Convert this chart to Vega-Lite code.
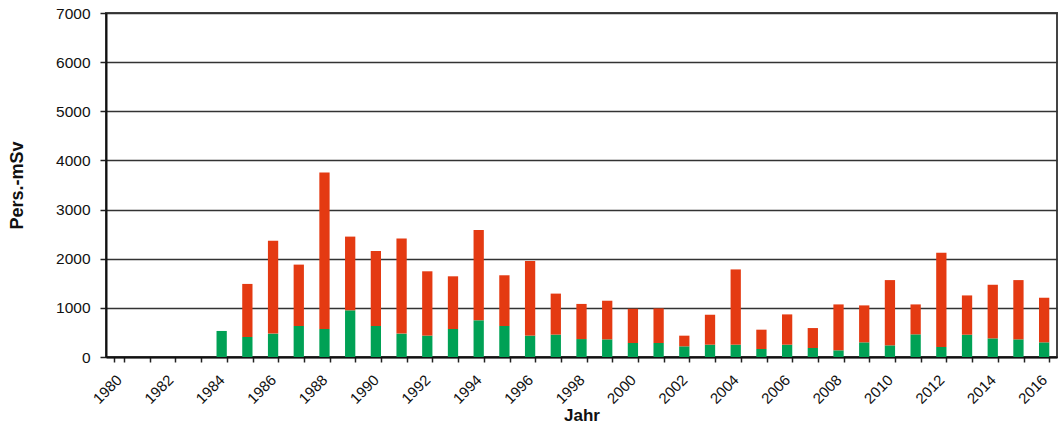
{
  "$schema": "https://vega.github.io/schema/vega-lite/v6.json",
  "autosize": "none",
  "width": 951,
  "height": 344,
  "padding": {"left": 106, "top": 13, "right": 2, "bottom": 73},
  "background": "white",
  "config": {
    "font": "Liberation Sans",
    "view": {"stroke": "#444", "strokeWidth": 2}
  },
  "data": {
    "values": [
      {"Jahr": "1984", "Gruppe": "A", "Wert": 530}, {"Jahr": "1984", "Gruppe": "B", "Wert": 0},
      {"Jahr": "1985", "Gruppe": "A", "Wert": 407}, {"Jahr": "1985", "Gruppe": "B", "Wert": 1080},
      {"Jahr": "1986", "Gruppe": "A", "Wert": 476}, {"Jahr": "1986", "Gruppe": "B", "Wert": 1890},
      {"Jahr": "1987", "Gruppe": "A", "Wert": 631}, {"Jahr": "1987", "Gruppe": "B", "Wert": 1249},
      {"Jahr": "1988", "Gruppe": "A", "Wert": 570}, {"Jahr": "1988", "Gruppe": "B", "Wert": 3183},
      {"Jahr": "1989", "Gruppe": "A", "Wert": 950}, {"Jahr": "1989", "Gruppe": "B", "Wert": 1500},
      {"Jahr": "1990", "Gruppe": "A", "Wert": 631}, {"Jahr": "1990", "Gruppe": "B", "Wert": 1526},
      {"Jahr": "1991", "Gruppe": "A", "Wert": 476}, {"Jahr": "1991", "Gruppe": "B", "Wert": 1933},
      {"Jahr": "1992", "Gruppe": "A", "Wert": 435}, {"Jahr": "1992", "Gruppe": "B", "Wert": 1309},
      {"Jahr": "1993", "Gruppe": "A", "Wert": 570}, {"Jahr": "1993", "Gruppe": "B", "Wert": 1072},
      {"Jahr": "1994", "Gruppe": "A", "Wert": 747}, {"Jahr": "1994", "Gruppe": "B", "Wert": 1837},
      {"Jahr": "1995", "Gruppe": "A", "Wert": 631}, {"Jahr": "1995", "Gruppe": "B", "Wert": 1032},
      {"Jahr": "1996", "Gruppe": "A", "Wert": 435}, {"Jahr": "1996", "Gruppe": "B", "Wert": 1519},
      {"Jahr": "1997", "Gruppe": "A", "Wert": 456}, {"Jahr": "1997", "Gruppe": "B", "Wert": 834},
      {"Jahr": "1998", "Gruppe": "A", "Wert": 365}, {"Jahr": "1998", "Gruppe": "B", "Wert": 715},
      {"Jahr": "1999", "Gruppe": "A", "Wert": 359}, {"Jahr": "1999", "Gruppe": "B", "Wert": 786},
      {"Jahr": "2000", "Gruppe": "A", "Wert": 285}, {"Jahr": "2000", "Gruppe": "B", "Wert": 697},
      {"Jahr": "2001", "Gruppe": "A", "Wert": 285}, {"Jahr": "2001", "Gruppe": "B", "Wert": 704},
      {"Jahr": "2002", "Gruppe": "A", "Wert": 217}, {"Jahr": "2002", "Gruppe": "B", "Wert": 217},
      {"Jahr": "2003", "Gruppe": "A", "Wert": 251}, {"Jahr": "2003", "Gruppe": "B", "Wert": 609},
      {"Jahr": "2004", "Gruppe": "A", "Wert": 251}, {"Jahr": "2004", "Gruppe": "B", "Wert": 1531},
      {"Jahr": "2005", "Gruppe": "A", "Wert": 163}, {"Jahr": "2005", "Gruppe": "B", "Wert": 393},
      {"Jahr": "2006", "Gruppe": "A", "Wert": 251}, {"Jahr": "2006", "Gruppe": "B", "Wert": 616},
      {"Jahr": "2007", "Gruppe": "A", "Wert": 183}, {"Jahr": "2007", "Gruppe": "B", "Wert": 406},
      {"Jahr": "2008", "Gruppe": "A", "Wert": 136}, {"Jahr": "2008", "Gruppe": "B", "Wert": 934},
      {"Jahr": "2009", "Gruppe": "A", "Wert": 298}, {"Jahr": "2009", "Gruppe": "B", "Wert": 752},
      {"Jahr": "2010", "Gruppe": "A", "Wert": 237}, {"Jahr": "2010", "Gruppe": "B", "Wert": 1328},
      {"Jahr": "2011", "Gruppe": "A", "Wert": 461}, {"Jahr": "2011", "Gruppe": "B", "Wert": 609},
      {"Jahr": "2012", "Gruppe": "A", "Wert": 203}, {"Jahr": "2012", "Gruppe": "B", "Wert": 1917},
      {"Jahr": "2013", "Gruppe": "A", "Wert": 454}, {"Jahr": "2013", "Gruppe": "B", "Wert": 799},
      {"Jahr": "2014", "Gruppe": "A", "Wert": 379}, {"Jahr": "2014", "Gruppe": "B", "Wert": 1091},
      {"Jahr": "2015", "Gruppe": "A", "Wert": 359}, {"Jahr": "2015", "Gruppe": "B", "Wert": 1206},
      {"Jahr": "2016", "Gruppe": "A", "Wert": 298}, {"Jahr": "2016", "Gruppe": "B", "Wert": 908}
    ]
  },
  "mark": {"type": "bar"},
  "encoding": {
    "x": {
      "field": "Jahr",
      "type": "nominal",
      "scale": {
        "domain": ["1980","1981","1982","1983","1984","1985","1986","1987","1988","1989","1990","1991","1992","1993","1994","1995","1996","1997","1998","1999","2000","2001","2002","2003","2004","2005","2006","2007","2008","2009","2010","2011","2012","2013","2014","2015","2016"],
        "paddingInner": 0.6,
        "paddingOuter": 0.3
      },
      "axis": {
        "title": "Jahr",
        "titleFont": "Liberation Sans",
        "titleFontSize": 17,
        "titleFontWeight": "bold",
        "titleColor": "#111",
        "titleBaseline": "alphabetic",
        "titleY": 63,
        "labelExpr": "toNumber(datum.value) % 2 == 0 ? datum.value : ''",
        "labelAngle": -45,
        "labelAlign": "right",
        "labelBaseline": "middle",
        "labelFontSize": 15,
        "labelColor": "#111",
        "labelPadding": 15,
        "labelOverlap": false,
        "labelBound": false,
        "tickBand": "extent",
        "ticks": true,
        "tickSize": 5,
        "tickColor": "#222",
        "tickWidth": 1.5,
        "domainColor": "#111",
        "domainWidth": 2,
        "grid": false
      }
    },
    "y": {
      "field": "Wert",
      "type": "quantitative",
      "aggregate": "sum",
      "stack": "zero",
      "scale": {"domain": [0, 7000], "nice": false},
      "axis": {
        "title": "Pers.-mSv",
        "titleFont": "Liberation Sans",
        "titleFontSize": 18,
        "titleFontWeight": "bold",
        "titleColor": "#111",
        "titleX": -80,
        "values": [0,1000,2000,3000,4000,5000,6000,7000],
        "format": "d",
        "labelFontSize": 15.5,
        "labelColor": "#111",
        "labelPadding": 10,
        "tickSize": 6,
        "tickColor": "#222",
        "tickWidth": 1.5,
        "domainColor": "#111",
        "domainWidth": 2,
        "grid": true,
        "gridColor": "#333",
        "gridWidth": 1.5
      }
    },
    "color": {
      "field": "Gruppe",
      "type": "nominal",
      "scale": {"domain": ["A", "B"], "range": ["#00A155", "#E43A12"]},
      "legend": null
    },
    "order": {"field": "Gruppe", "type": "nominal", "sort": "ascending"}
  }
}
